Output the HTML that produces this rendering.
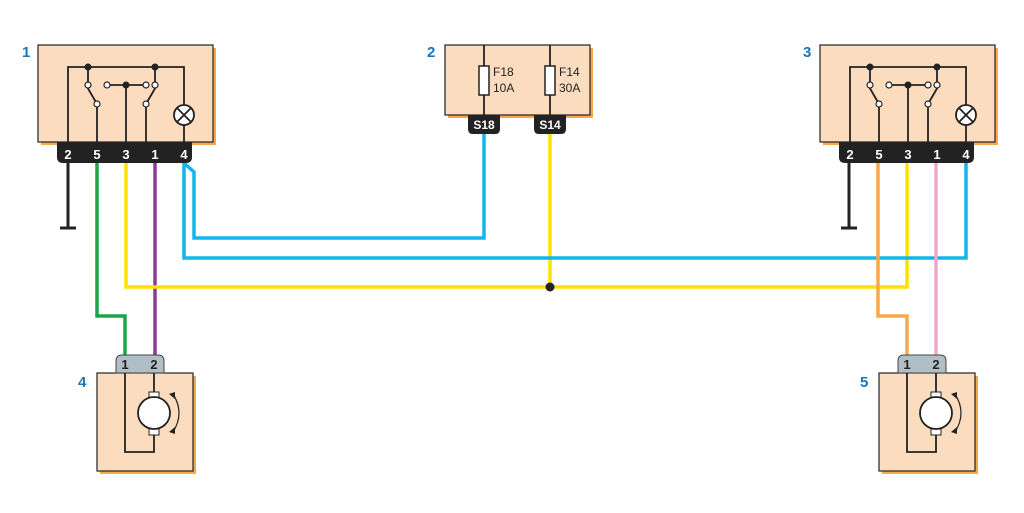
<!DOCTYPE html>
<html><head><meta charset="utf-8"><style>
html,body{margin:0;padding:0;background:#fff;}
svg{display:block;}
text{font-family:"Liberation Sans",sans-serif;font-weight:bold;}
</style></head><body>
<svg width="1024" height="513" viewBox="0 0 1024 513" xmlns="http://www.w3.org/2000/svg">
<defs>
<g id="relay">
  <rect x="3" y="3" width="175" height="97" fill="#f7a94a"/>
  <rect x="0" y="0" width="175" height="97" fill="#fbdcbf" stroke="#222" stroke-width="1.2"/>
  <path d="M19 97 H154 V112 Q154 118 148 118 H25 Q19 118 19 112 Z" fill="#222"/>
  <g stroke="#222" stroke-width="1.8" fill="none">
    <path d="M30 97 V22 H146 V60"/>
    <path d="M50 22 V40 M48 40 L59 59 M59 59 V97"/>
    <path d="M117 22 V40 M119 40 L108 59 M108 59 V97"/>
    <path d="M69 40 H108 M88 40 V97"/>
    <path d="M146 80 V97"/>
  </g>
  <circle cx="146" cy="70" r="10" fill="#fff" stroke="#222" stroke-width="1.8"/>
  <path d="M139 63 L153 77 M153 63 L139 77" stroke="#222" stroke-width="1.8"/>
  <g fill="#222"><circle cx="50" cy="22" r="3.5"/><circle cx="117" cy="22" r="3.5"/><circle cx="88" cy="40" r="3.5"/></g>
  <g fill="#fff" stroke="#222" stroke-width="1.2">
    <circle cx="50" cy="40" r="3"/><circle cx="59" cy="59" r="3"/><circle cx="69" cy="40" r="3"/>
    <circle cx="108" cy="40" r="3"/><circle cx="117" cy="40" r="3"/><circle cx="108" cy="59" r="3"/>
  </g>
  <g fill="#fff" font-size="13" text-anchor="middle">
    <text x="30" y="114">2</text><text x="59" y="114">5</text><text x="88" y="114">3</text><text x="117" y="114">1</text><text x="146" y="114">4</text>
  </g>
</g>
<g id="motor">
  <rect x="3" y="3" width="96" height="98" fill="#f7a94a"/>
  <rect x="0" y="0" width="96" height="98" fill="#fbdcbf" stroke="#222" stroke-width="1.2"/>
  <path d="M19 0 V-12 Q19 -18 25 -18 H61 Q67 -18 67 -12 V0 Z" fill="#b0bec5" stroke="#444" stroke-width="1"/>
  <text x="28" y="-4" font-size="13" text-anchor="middle" fill="#222">1</text>
  <text x="57" y="-4" font-size="13" text-anchor="middle" fill="#222">2</text>
  <path d="M28 0 V79 H57 V59 M57 22 V0" stroke="#222" stroke-width="1.8" fill="none"/>
  <rect x="52" y="19" width="10" height="6" fill="#fff" stroke="#222" stroke-width="1"/>
  <rect x="52" y="56" width="10" height="6" fill="#fff" stroke="#222" stroke-width="1"/>
  <circle cx="57" cy="40" r="16" fill="#fff" stroke="#222" stroke-width="1.8"/>
  <path d="M76 21 Q88 40 76 59" stroke="#222" stroke-width="1.2" fill="none"/>
  <path d="M72 21 L78 19 L78 26 Z M72 59 L78 61 L78 54 Z" fill="#222"/>
</g>
</defs>

<g fill="none" stroke-width="3.5">
  <path d="M68 160 V228 M60 228 H76" stroke="#222" stroke-width="3"/>
  <path d="M849 160 V228 M841 228 H857" stroke="#222" stroke-width="3"/>
  <path d="M97 160 V316 H125 V356" stroke="#1aa548"/>
  <path d="M155 160 V356" stroke="#8e3a9c"/>
  <path d="M126 160 V287 H907 V160" stroke="#ffe100"/>
  <path d="M550 132 V287" stroke="#ffe100"/>
  <path d="M184 160 V258 H966 V160" stroke="#13b5ea"/>
  <path d="M184 163 L194 172 V238 H484 V132" stroke="#13b5ea"/>
  <path d="M878 160 V316 H907 V356" stroke="#f7a94a"/>
  <path d="M936 160 V356" stroke="#f2a7c9"/>
</g>
<circle cx="550" cy="287" r="4.5" fill="#222"/>

<use href="#relay" x="38" y="45"/>
<use href="#relay" x="820" y="45"/>

<rect x="448" y="48" width="145" height="70" fill="#f7a94a"/>
<rect x="445" y="45" width="145" height="70" fill="#fbdcbf" stroke="#222" stroke-width="1.2"/>
<path d="M484 45 V115 M550 45 V115" stroke="#222" stroke-width="1.8"/>
<rect x="479" y="66" width="10" height="29" fill="#fff" stroke="#222" stroke-width="1.5"/>
<rect x="545" y="66" width="10" height="29" fill="#fff" stroke="#222" stroke-width="1.5"/>
<g font-size="12" fill="#222">
<text x="493" y="76" style="font-weight:normal">F18</text><text x="493" y="92" style="font-weight:normal">10A</text>
<text x="559" y="76" style="font-weight:normal">F14</text><text x="559" y="92" style="font-weight:normal">30A</text>
</g>
<path d="M468 115 H500 V129 Q500 134 495 134 H473 Q468 134 468 129 Z" fill="#222"/>
<path d="M534 115 H566 V129 Q566 134 561 134 H539 Q534 134 534 129 Z" fill="#222"/>
<text x="484" y="129" font-size="12" fill="#fff" text-anchor="middle">S18</text>
<text x="550" y="129" font-size="12" fill="#fff" text-anchor="middle">S14</text>

<use href="#motor" x="97" y="373"/>
<use href="#motor" x="879" y="373"/>

<g font-size="15" fill="#1a75bb">
<text x="22" y="57">1</text><text x="427" y="57">2</text><text x="803" y="57">3</text>
<text x="78" y="387">4</text><text x="860" y="387">5</text>
</g>
</svg>
</body></html>
